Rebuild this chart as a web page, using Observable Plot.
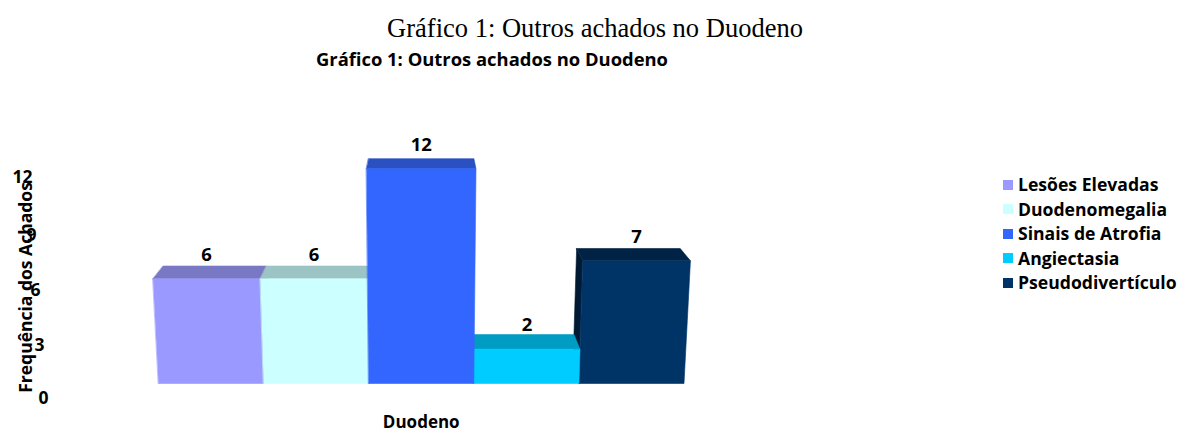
<!DOCTYPE html>
<html>
<head>
<meta charset="utf-8">
<script src="https://cdn.jsdelivr.net/npm/d3@7"></script>
<script src="https://cdn.jsdelivr.net/npm/@observablehq/plot@0.6"></script>
<style>
  html, body { margin: 0; padding: 0; background: #fff; }
  #wrap { position: relative; width: 1179px; height: 432px; overflow: hidden; }
  #title { position: absolute; left: 0; width: 1179px; top: 15px; text-align: center; padding-left: 11px; box-sizing: border-box;
           font-family: "Liberation Serif", "Times New Roman", serif; font-size: 26.5px; line-height: 26.5px; color: #000; white-space: nowrap; }
  #subtitle { position: absolute; left: 0; width: 984px; top: 50px; text-align: center; box-sizing: border-box;
              font-family: "Open Sans", sans-serif; font-weight: bold; font-size: 18.4px; line-height: 18px; color: #000; white-space: nowrap; }
  #chart { position: absolute; left: 0; top: 80px; }
  #legend { position: absolute; left: 1003px; top: 176px; font-family: "Open Sans", sans-serif; font-weight: bold; font-size: 17.6px; color: #000; }
  #legend .row { display: flex; align-items: center; height: 17px; line-height: 17px; margin-bottom: 7.5px; white-space: nowrap; }
  #legend .sw { width: 10px; height: 10px; margin-right: 5px; flex: none; }
</style>
</head>
<body>
<div id="wrap">
  <div id="title"></div>
  <div id="subtitle"></div>
  <div id="chart"></div>
  <div id="legend"></div>
</div>
<script>
// ---- data ----
const titleText = "Gráfico 1: Outros achados no Duodeno";
const groupLabel = "Duodeno";
const yLabel = "Frequência dos Achados";
const categories = ["Lesões Elevadas", "Duodenomegalia", "Sinais de Atrofia", "Angiectasia", "Pseudodivertículo"];
const values = [6, 6, 12, 2, 7];
const yTicks = [0, 3, 6, 9, 12];

// ---- styles ----
const frontColors = ["#9999ff", "#ccffff", "#3366ff", "#00ccff", "#003366"];
const topColors   = ["#7878c4", "#9cc4c4", "#2a50c2", "#009cc2", "#002244"];
const sideColors  = ["#5c5ca0", "#80a8a8", "#1c3c99", "#007a99", "#001a33"];

document.getElementById("title").textContent = titleText;
document.getElementById("subtitle").textContent = titleText;

// ---- simple perspective for the 3D look (data units) ----
const n = categories.length;
const cx = n / 2;              // vanishing centre
const k = 0.0035;              // widening with height
const s = 0.038;               // back-edge convergence
const Yp = h => h + 0.0044 * h * h;
const depth = h => (15.5 - 0.45 * h) / 17;
function P(u, h, back) {
  let x = cx + (u - cx) * (1 + k * h);
  let y = Yp(h);
  if (back) { x = cx + (x - cx) * (1 - s); y += depth(h); }
  return {x, y};
}

const order = d3.range(n).sort((a, b) => Math.abs(b + 0.5 - cx) - Math.abs(a + 0.5 - cx));
const polys = [];
let pid = 0;
function addPoly(pts, fill) {
  const id = pid++;
  for (const p of pts) polys.push({id, x: p.x, y: p.y, fill});
}
for (const i of order) {
  const v = values[i], u0 = i, u1 = i + 1;
  if (u0 > cx) addPoly([P(u0, 0, false), P(u0, v, false), P(u0, v, true), P(u0, 0, true)], sideColors[i]);
  if (u1 < cx) addPoly([P(u1, 0, false), P(u1, v, false), P(u1, v, true), P(u1, 0, true)], sideColors[i]);
  addPoly([P(u0, v, false), P(u1, v, false), P(u1, v, true), P(u0, v, true)], topColors[i]);
  addPoly([P(u0, 0, false), P(u1, 0, false), P(u1, v, false), P(u0, v, false)], frontColors[i]);
}

const valueLabels = values.map((v, i) => ({label: String(v), ...P(i + 0.5, v, false)}));
const tickLabels = yTicks.map(h => ({label: String(h), x: ((48 - 1.33 * h) - 158) / 105.1, y: Yp(h) - (15 - 0.5 * h) / 17}));
const yLabelPos = [{label: yLabel, x: (26 - 158) / 105.1, y: (303 - 207) / 17}];

const chart = Plot.plot({
  width: 1179,
  height: 352,
  margin: 0,
  style: {fontFamily: "'Open Sans', sans-serif", background: "transparent", color: "#000"},
  x: {type: "linear", domain: [0, n], range: [158, 683.5], axis: null},
  y: {type: "linear", domain: [0, 12], range: [303, 99], axis: null},
  color: {type: "identity"},
  marks: [
    Plot.line(polys, {x: "x", y: "y", z: "id", fill: "fill", stroke: "fill", strokeWidth: 0.6, curve: "linear-closed"}),
    Plot.text(valueLabels, {x: "x", y: "y", text: "label", dy: -24, fontSize: 18.5, fontWeight: "bold", fill: "#000"}),
    Plot.text(tickLabels, {x: "x", y: "y", text: "label", textAnchor: "end", fontSize: 17.5, fontWeight: "bold", fill: "#000"}),
    Plot.text([groupLabel], {x: () => n / 2, y: () => 0, text: d => d, dy: 39.5, fontSize: 17, fontWeight: "bold", fill: "#000"}),
    Plot.text(yLabelPos, {x: "x", y: "y", text: "label", rotate: -90, fontSize: 17.5, fontWeight: "bold", fill: "#000"})
  ]
});
document.getElementById("chart").appendChild(chart);

// legend
const legend = d3.select("#legend");
categories.forEach((c, i) => {
  const row = legend.append("div").attr("class", "row");
  row.append("div").attr("class", "sw").style("background", frontColors[i]);
  row.append("span").text(c);
});
</script>
</body>
</html>
